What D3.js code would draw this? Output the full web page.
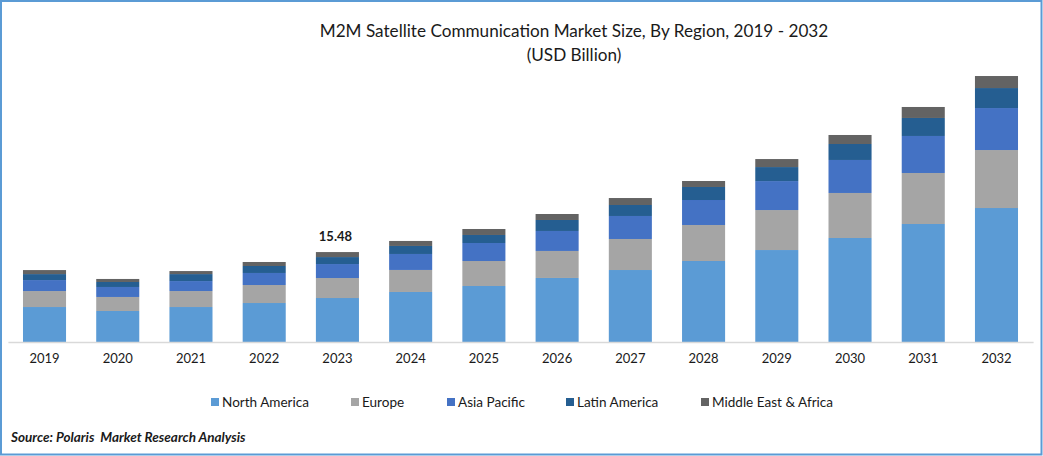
<!DOCTYPE html>
<html><head><meta charset="utf-8">
<script src="https://cdnjs.cloudflare.com/ajax/libs/d3/7.8.5/d3.min.js"></script>
<style>html,body{margin:0;padding:0;background:#fff}svg{display:block}text{font-family:Lato,"Open Sans",sans-serif;fill:#1a1a1a;white-space:pre}</style>
</head><body><svg id="c" width="1043" height="456"></svg>
<script>
const years=["2019","2020","2021","2022","2023","2024","2025","2026","2027","2028","2029","2030","2031","2032"];
const seriesNames=["North America","Europe","Asia Pacific","Latin America","Middle East & Africa"];
const colors=["#5b9bd5","#a5a5a5","#4472c4","#255e91","#636363"];
const northAmerica=[6.02,5.34,6.02,6.71,7.57,8.61,9.64,11.02,12.39,13.94,15.83,17.90,20.31,23.06];
const europe=[2.75,2.41,2.75,3.10,3.44,3.79,4.30,4.65,5.34,6.20,6.88,7.75,8.78,9.98];
const asiaPacific=[1.89,1.72,1.72,2.07,2.41,2.75,3.10,3.44,3.96,4.30,4.99,5.68,6.37,7.23];
const latinAmerica=[1.03,0.86,1.20,1.20,1.20,1.38,1.38,1.89,1.89,2.24,2.41,2.75,3.10,3.44];
const middleEast=[0.69,0.52,0.52,0.69,0.86,0.86,1.03,1.03,1.20,1.03,1.38,1.55,1.89,2.07];
const annotationYear="2023", annotationText="15.48";
const titleLines=["M2M Satellite Communication Market Size, By Region, 2019 - 2032","(USD Billion)"];
const sourceText="Source: Polaris  Market Research Analysis";
const legendX=[211,351,447,566,701];

const svg=d3.select("#c");
const x=d3.scaleBand().domain(years).range([7.9,1033.1]).paddingInner(0.412).paddingOuter(0.206);
const y=d3.scaleLinear().domain([0,50]).range([342,342-50*5.81]);
const rows=years.map((yr,i)=>({year:yr,0:northAmerica[i],1:europe[i],2:asiaPacific[i],3:latinAmerica[i],4:middleEast[i]}));
const stack=d3.stack().keys([0,1,2,3,4])(rows);

svg.append("g").selectAll("g").data(stack).join("g").attr("fill",(d,i)=>colors[i])
  .selectAll("rect").data(d=>d).join("rect")
  .attr("x",d=>x(d.data.year)).attr("width",x.bandwidth())
  .attr("y",d=>y(d[1])).attr("height",d=>y(d[0])-y(d[1]));

const axis=svg.append("g").attr("transform","translate(0,342)")
  .call(d3.axisBottom(x).tickSize(0).tickPadding(12));
axis.select(".domain").attr("stroke","#d9d9d9").attr("stroke-width",1.5);
axis.selectAll("text").attr("font-size",13).style("font-family","Lato").attr("fill","#1a1a1a");

const last=stack[4].find(d=>d.data.year===annotationYear);
svg.append("text").attr("x",x(annotationYear)+x.bandwidth()/2-2).attr("y",y(last[1])-11)
  .attr("text-anchor","middle").attr("font-size",13).attr("font-weight",700).text(annotationText);

svg.selectAll(".t").data(titleLines).join("text").attr("class","t")
  .attr("x",574).attr("y",(d,i)=>37+i*24).attr("text-anchor","middle").attr("font-size",17.15).text(d=>d);

const lg=svg.selectAll(".l").data(seriesNames).join("g").attr("class","l")
  .attr("transform",(d,i)=>`translate(${legendX[i]},398)`);
lg.append("rect").attr("width",8).attr("height",8).attr("fill",(d,i)=>colors[i]);
lg.append("text").attr("x",11).attr("y",9).attr("font-size",13.55).text(d=>d);

svg.append("text").attr("x",11).attr("y",442).attr("font-size",13.5).attr("font-weight",700)
  .attr("font-style","italic").text(sourceText);

svg.append("rect").attr("x",1).attr("y",1).attr("width",1040.5).attr("height",453.5)
  .attr("fill","none").attr("stroke","#5b9bd5").attr("stroke-width",2);
</script></body></html>
